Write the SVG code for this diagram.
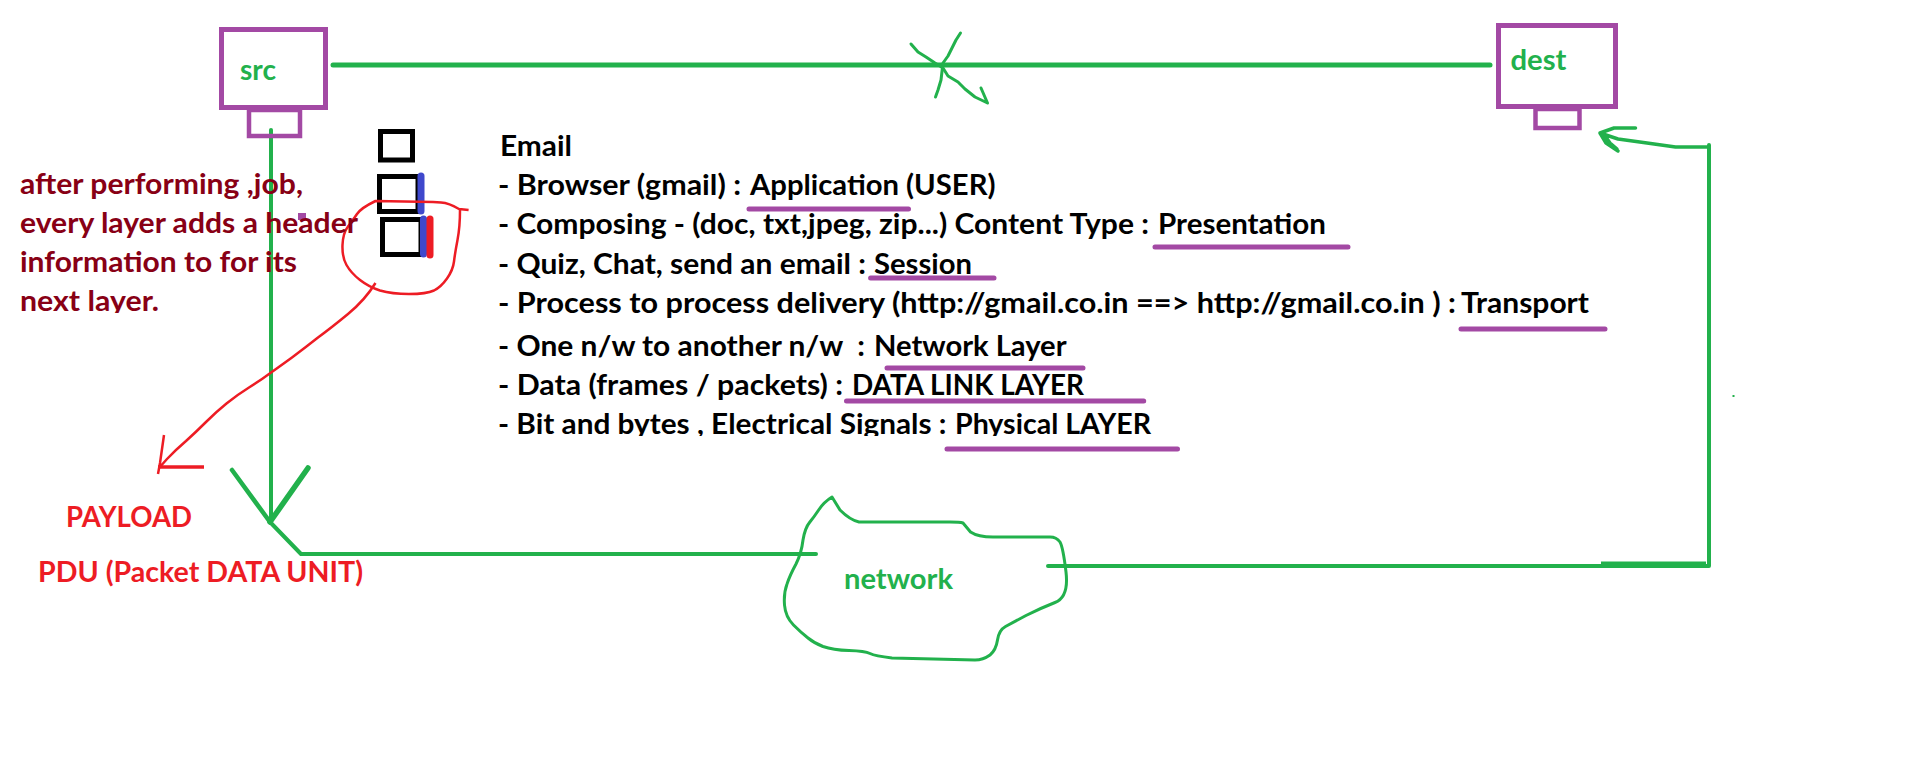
<svg xmlns="http://www.w3.org/2000/svg" width="1914" height="763" viewBox="0 0 1914 763">
<style>
text{font-family:"Lato","Liberation Sans",sans-serif;font-weight:700;font-size:28px}
.k{fill:#000}.r{fill:#880015}.e{fill:#ED1C24}.g{fill:#22B14C}
.box{fill:none;stroke:#A349A4;stroke-width:5}
.ul{fill:none;stroke:#A349A4;stroke-width:5;stroke-linecap:round}
.ln{fill:none;stroke:#22B14C;stroke-width:4;stroke-linecap:round;stroke-linejoin:round}
.hand{fill:none;stroke:#ED1C24;stroke-width:2.5;stroke-linejoin:round}
.sq{fill:none;stroke:#000;stroke-width:5}
</style>
<defs>
<clipPath id="c1"><rect x="0" y="150" width="480" height="163"/></clipPath>
<clipPath id="c2"><rect x="480" y="400" width="800" height="36"/></clipPath>
</defs>
<rect width="1914" height="763" fill="#fff"/>
<g id="connectors">
<path class="ln" d="M333 65H1490" style="stroke-width:5"/>
<path class="ln" d="M271 130V522"/>
<path class="ln" d="M232 470L270 522" style="stroke-width:4.5"/>
<path class="ln" d="M308 468L270 522" style="stroke-width:5.5"/>
<path class="ln" d="M270 522L301 554H816"/>
<path class="ln" d="M1048 566H1709V145"/>
<path class="ln" d="M1601 564H1706" style="stroke-width:5;stroke-linecap:butt"/>
<path class="ln" d="M1709 147L1675.5 147L1647 143L1618 139L1600 133M1635.5 128L1614 128L1600 133L1606 143L1618 151M1603 133L1610 143L1617 149" style="stroke-width:3.5"/>
<path class="ln" d="M960.5 33L956 40L952 48L948 56L943 63L941 80L938 90L935.5 97" style="stroke-width:3"/>
<path class="ln" d="M911 44L918 52L926 57L935 63L943 68L948 76L958 82L965 89L975 97L987.5 103M981 88L987.5 103" style="stroke-width:3"/>
<path class="hand" d="M375.5 283Q365 300 348 314Q331 328 318 337.5Q306 347 292 357.5Q277.5 368 269 374Q261 380 249 387.5Q237 395 226.5 403.5Q216 412 206 422Q196 432 186 441Q175.5 450 167 459L159 468M164 435L160 463L158 474"/>
<path class="hand" d="M158 467H204" style="stroke-width:3.5"/>
<rect x="1732.5" y="395" width="2" height="2" fill="#22B14C"/>
</g>
<g id="src">
<rect class="box" x="221.5" y="29.5" width="104" height="78"/>
<rect class="box" x="249" y="110" width="51" height="26" style="stroke-width:4.5"/>
<text class="g" x="240" y="80" textLength="36" lengthAdjust="spacingAndGlyphs">src</text>
</g>
<g id="dest">
<rect class="box" x="1498.5" y="25.5" width="117" height="81"/>
<rect class="box" x="1535.5" y="109" width="44" height="19" style="stroke-width:4.5"/>
<text class="g" x="1510.5" y="70" textLength="56" lengthAdjust="spacingAndGlyphs">dest</text>
</g>
<g id="network">
<path class="ln" style="stroke-width:3" d="M832 497Q824 502 819 509.5Q814 517 809.5 522.5Q805 528 803 540Q801.5 553 796 564Q790 575 787 584Q783.6 593 784.5 605Q785.5 617 793.5 625Q801.5 633 808 638Q814 643 823 646.5Q833 650 849 650.5Q865 651 870 653.5Q875 656 892 658L975 660Q983 660 990 655Q996 650 997.5 640Q999 630 1005.5 626.5Q1012 623 1026 615.5Q1041 608 1055 602.5Q1069 597 1066 572Q1063 547 1060 542Q1056.5 537 1050 537L993 537Q978 537 970.5 532L963 523Q960 522 950 522L859 522Q850 520 840 510L832 497Z"/>
<text class="g" x="844" y="589" textLength="109" lengthAdjust="spacingAndGlyphs">network</text>
</g>
<g id="layers">
<rect class="sq" x="380.5" y="131.5" width="32" height="28.5"/>
<rect class="sq" x="379.5" y="176.5" width="38.5" height="35"/>
<rect class="sq" x="382.5" y="219.5" width="38.5" height="35"/>
<path d="M421 176V211" stroke="#3F48CC" stroke-width="7" stroke-linecap="round"/>
<path d="M423.5 219V254" stroke="#3F48CC" stroke-width="7" stroke-linecap="round"/>
<path d="M430 219V255" stroke="#ED1C24" stroke-width="7" stroke-linecap="round"/>
<rect x="298" y="213" width="8" height="7" fill="#A349A4"/>
</g>
<g id="highlight">
<path class="hand" d="M468.6 210L459 209Q449 203 441 202.5L433 202L375.5 201Q361 208 357 214Q353 220 348 226.5Q343 233 342.5 245Q342 257 346.5 265Q351 273 360 280Q369 287 380 290.5Q392 294 409 294Q426.5 294 434 290.5Q441 287 447 278.5Q453 270 454 261.5Q455 253 457.5 240Q460 227 460 210"/>
</g>
<g id="header-note" clip-path="url(#c1)">
<text class="r" x="20" y="194" textLength="283" lengthAdjust="spacingAndGlyphs">after performing ,job,</text>
<text class="r" x="20" y="233" textLength="338" lengthAdjust="spacingAndGlyphs">every layer adds a header</text>
<text class="r" x="20" y="272" textLength="277" lengthAdjust="spacingAndGlyphs">information to for its</text>
<text class="r" x="20" y="311" textLength="139" lengthAdjust="spacingAndGlyphs">next layer.</text>
</g>
<g id="payload">
<text class="e" x="66" y="527" textLength="126" lengthAdjust="spacingAndGlyphs">PAYLOAD</text>
<text class="e" x="38" y="582" textLength="325" lengthAdjust="spacingAndGlyphs">PDU (Packet DATA UNIT)</text>
</g>
<g id="osi-list">
<text class="k" x="500" y="156" textLength="72" lengthAdjust="spacingAndGlyphs">Email</text>
<text class="k" x="498" y="195" textLength="243" lengthAdjust="spacingAndGlyphs">- Browser (gmail) :</text>
<text class="k" x="750" y="195" textLength="245.5" lengthAdjust="spacingAndGlyphs">Application (USER)</text>
<text class="k" x="498" y="234" textLength="651" lengthAdjust="spacingAndGlyphs">- Composing - (doc, txt,jpeg, zip...) Content Type :</text>
<text class="k" x="1158" y="234" textLength="168" lengthAdjust="spacingAndGlyphs">Presentation</text>
<text class="k" x="498" y="274" textLength="368" lengthAdjust="spacingAndGlyphs">- Quiz, Chat, send an email :</text>
<text class="k" x="874" y="274" textLength="98" lengthAdjust="spacingAndGlyphs">Session</text>
<text class="k" x="498" y="313" textLength="958" lengthAdjust="spacingAndGlyphs">- Process to process delivery (http://gmail.co.in ==&gt; http://gmail.co.in ) :</text>
<text class="k" x="1461" y="313" textLength="128" lengthAdjust="spacingAndGlyphs">Transport</text>
<text class="k" x="498" y="356" textLength="367" lengthAdjust="spacingAndGlyphs" xml:space="preserve">- One n/w to another n/w  :</text>
<text class="k" x="874" y="356" textLength="192.5" lengthAdjust="spacingAndGlyphs">Network Layer</text>
<text class="k" x="498" y="395" textLength="345" lengthAdjust="spacingAndGlyphs">- Data (frames / packets) :</text>
<text class="k" x="852" y="395" textLength="232" lengthAdjust="spacingAndGlyphs">DATA LINK LAYER</text>
<g clip-path="url(#c2)">
<text class="k" x="498" y="434" textLength="448.5" lengthAdjust="spacingAndGlyphs">- Bit and bytes , Electrical Signals :</text>
<text class="k" x="955" y="434" textLength="196" lengthAdjust="spacingAndGlyphs">Physical LAYER</text>
</g>
</g>
<g id="underlines">
<path class="ul" d="M749 209H908.5M1155 247H1348M870.6 278H994M1461 329H1605M887 368H1083M846.5 401H1143.7M947 449H1177.5"/>
</g>
</svg>
